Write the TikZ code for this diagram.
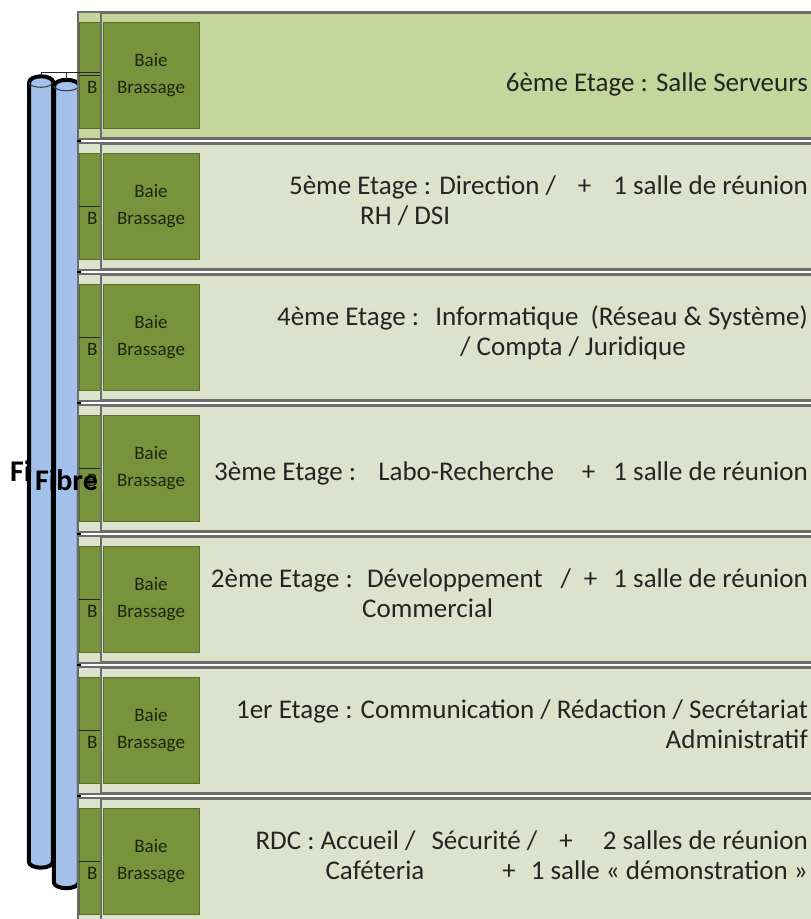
\documentclass[tikz,border=0pt]{standalone}
\usepackage{fontspec}
\setmainfont{Carlito}
\usepackage{tikz}
\usetikzlibrary{shapes.geometric}
\usetikzlibrary{positioning}

\definecolor{etage}{RGB}{221,226,204}
\definecolor{etagehaut}{RGB}{196,214,155}
\definecolor{olive}{RGB}{119,147,60}
\definecolor{olivefonce}{RGB}{88,108,44}
\definecolor{fibrebleu}{RGB}{163,193,234}
\definecolor{texte}{RGB}{36,36,36}

\tikzset{
	panneau/.style={draw=gray!85!black,line width=1.4pt},
	baie/.style={fill=olive,draw=olivefonce,line width=0.8pt,minimum width=96pt,minimum height=106pt,inner sep=0pt,align=center,text=black!75!olive,font=\fontsize{19}{27}\selectfont},
	fibre/.style={draw=none,inner sep=0pt},
	cyl/.style={draw=black,line width=4pt,fill=fibrebleu},
	lien/.style={draw=black!85,line width=1pt},
	txt/.style={anchor=base east,inner sep=0pt,text=texte,font=\fontsize{27}{30}\selectfont},
	txtg/.style={txt,anchor=base west},
	fibretxt/.style={anchor=base west,inner sep=0pt,font=\fontsize{30}{30}\selectfont\bfseries}
}

\begin{document}
\begin{tikzpicture}[x=1pt,y=-1pt]
	\useasboundingbox (0,0) rectangle (811,919);

	\node[fibretxt] (f1) at (10,481) {Fibre};
	\node[fibre,minimum width=24pt,minimum height=791pt] (fibreA) at (41,472) {};
	\node[fibre,minimum width=25pt,minimum height=808pt] (fibreB) at (66.5,484) {};
	\foreach \f/\r in {fibreA/12,fibreB/12.5}{
		\filldraw[cyl] ([yshift=-6pt]\f.north east) arc[start angle=0,end angle=-180,x radius=\r,y radius=6]
			-- ([yshift=6pt]\f.south west) arc[start angle=180,end angle=0,x radius=\r,y radius=6] -- cycle;
		\draw[black!70!fibrebleu,line width=1pt] ([yshift=-6pt]\f.north west) arc[start angle=180,end angle=0,x radius=\r,y radius=5];
	}

	% copie decalee derriere
	\foreach \n/\t/\c in {6/13/etagehaut,5/144/etage,4/275/etage,3/406/etage,2/537/etage,1/668/etage,0/799/etage}{
		\filldraw[panneau,fill=\c] (78,\t-1) rectangle (830,\t+126);
		\node[baie] (bb\n) at (127,\t+62) {};
		\node[anchor=base west,inner sep=0pt,text=black!75!olive,font=\fontsize{19}{27}\selectfont] (bl\n) at (87,\t+80) {B};
		\draw[lien] (fibreB.east |- bb\n.center) -- (bb\n.east);
	}
	\coordinate (hub) at ([yshift=4pt]fibreA.north);
	\draw[lien] (fibreA.north) -- (hub) -- (hub -| bb6.east);
	\draw[lien] (hub -| fibreB.north) -- (fibreB.north);

	\foreach \n/\t/\c in {6/13/etagehaut,5/144/etage,4/275/etage,3/406/etage,2/537/etage,1/668/etage,0/799/etage}{
		\filldraw[panneau,fill=\c] (101,\t) rectangle (830,\t+125);
		\node[baie] (b\n) at (151,\t+62) {Baie\\Brassage};
	}

	\node[txt] (t6) at (808,91) {6ème Etage : Salle Serveurs};
	\node[txt] (t5a) at (808,194) {5ème Etage : Direction /\hspace{22pt}+\hspace{22pt}1 salle de réunion};
	\node[txtg] (t5b) at (360,224) {RH / DSI};
	\node[txt] (t4a) at (808,325) {4ème Etage :\hspace{8pt} Informatique\hspace{6pt} (Réseau \& Système)};
	\node[txtg] (t4b) at (460,355) {/ Compta / Juridique};
	\node[txt] (t3) at (808,480) {3ème Etage :\hspace{14pt} Labo-Recherche\hspace{28pt}+\hspace{18pt}1 salle de réunion};
	\node[txt] (t2a) at (808,587) {2ème Etage :\hspace{6pt} Développement\hspace{18pt}/\hspace{13pt}+\hspace{16pt}1 salle de réunion};
	\node[txtg] (t2b) at (362,617) {Commercial};
	\node[txt] (t1a) at (808,718) {1er Etage : Communication / Rédaction / Secrétariat};
	\node[txt] (t1b) at (808,748) {Administratif};
	\node[txt] (t0a) at (808,849) {RDC : Accueil /\hspace{16pt}Sécurité /\hspace{22pt}+\hspace{30pt}2 salles de réunion};
	\node[txt] (t0b) at (808,879) {Caféteria\hspace{78pt}+\hspace{15pt}1 salle «~démonstration~»};

	\node[fibretxt] (f2) at (35,490) {Fibre};
\end{tikzpicture}
\end{document}
